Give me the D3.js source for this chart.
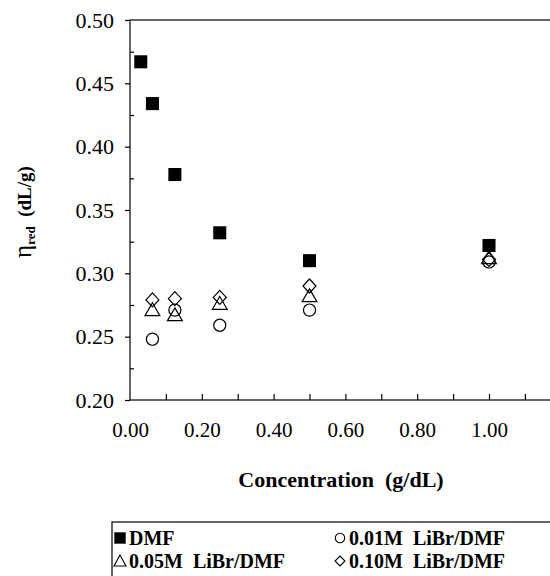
<!DOCTYPE html>
<html>
<head>
<meta charset="utf-8">
<script src="https://cdn.jsdelivr.net/npm/d3@7"></script>
<style>
  body { margin: 0; background: #fff; }
  svg { display: block; }
  svg text { font-family: "Liberation Serif", "DejaVu Serif", serif; fill: #000; }
</style>
</head>
<body>
<svg width="550" height="576"></svg>
<script>
// data
var conc = [0.03, 0.0625, 0.125, 0.25, 0.5, 1.0];
var dmf = [0.467, 0.434, 0.378, 0.332, 0.310, 0.322];
var conc2 = [0.0625, 0.125, 0.25, 0.5, 1.0];
var libr001 = [0.248, 0.271, 0.259, 0.271, 0.309];
var libr005 = [0.270, 0.266, 0.275, 0.281, 0.311];
var libr010 = [0.279, 0.280, 0.281, 0.290, 0.311];
var xTicks = [0, 0.2, 0.4, 0.6, 0.8, 1.0];
var yTicks = [0.20, 0.25, 0.30, 0.35, 0.40, 0.45, 0.50];

var svg = d3.select("svg");

var x = d3.scaleLinear().domain([0, 1.2]).range([130, 560.8]);
var y = d3.scaleLinear().domain([0.2, 0.5]).range([400, 20]);

// frame (right side runs off the picture)
svg.append("rect")
    .attr("x", x(0)).attr("y", y(0.5))
    .attr("width", x(1.2) - x(0)).attr("height", y(0.2) - y(0.5))
    .attr("fill", "none").attr("stroke", "#000").attr("stroke-width", 1.2);

// y axis: major ticks outside, minor inside
var yAxis = svg.append("g").attr("transform", "translate(" + x(0) + ",0)");
yAxis.call(d3.axisLeft(y).tickValues(yTicks).tickSize(5).tickPadding(11).tickFormat(d3.format(".2f")));
yAxis.select(".domain").remove();
yAxis.selectAll("text").style("font-size", "22px");
yAxis.selectAll("line").attr("stroke-width", 1.2);
svg.append("g").attr("transform", "translate(" + x(0) + ",0)")
    .call(d3.axisRight(y).tickValues(d3.range(0.225, 0.5, 0.05)).tickSize(4).tickFormat(""))
    .call(function(g) { g.select(".domain").remove(); g.selectAll("line").attr("stroke-width", 1.2); });

// x axis: ticks pointing inward
var xAxis = svg.append("g").attr("transform", "translate(0," + y(0.2) + ")");
xAxis.call(d3.axisBottom(x).tickValues(xTicks).tickSize(0).tickPadding(22).tickFormat(d3.format(".2f")));
xAxis.select(".domain").remove();
xAxis.selectAll("text").style("font-size", "21px");
svg.append("g").attr("transform", "translate(0," + y(0.2) + ")")
    .call(d3.axisTop(x).tickValues(d3.range(0.1, 1.15, 0.1)).tickSize(6).tickFormat(""))
    .call(function(g) { g.select(".domain").remove(); g.selectAll("line").attr("stroke-width", 1.2); });

// axis titles
svg.append("text")
    .attr("x", 341).attr("y", 487)
    .attr("text-anchor", "middle")
    .style("font-size", "22px").style("font-weight", "bold")
    .text("Concentration\u00a0\u00a0(g/dL)");

var yt = svg.append("text")
    .attr("transform", "translate(31,212) rotate(-90)")
    .attr("text-anchor", "middle")
    .style("font-size", "19px").style("font-weight", "bold");
yt.append("tspan").style("font-weight", "normal").style("font-size", "25px").text("\u03b7");
yt.append("tspan").style("font-size", "13px").attr("dy", 4).text("red");
yt.append("tspan").attr("dy", -4).text("\u00a0\u00a0(dL/g)");

// markers
function sym(type, size) { return d3.symbol().type(type).size(size)(); }

svg.append("g").selectAll("path").data(conc).enter().append("path")
    .attr("d", sym(d3.symbolSquare, 170))
    .attr("transform", function(d, i) { return "translate(" + x(d) + "," + y(dmf[i]) + ")"; })
    .attr("fill", "#000");

var series = [
    {vals: libr001, d: sym(d3.symbolCircle, 115)},
    {vals: libr005, d: sym(d3.symbolTriangle, 95)},
    {vals: libr010, d: "M0,-7L6.5,0L0,7L-6.5,0Z"}
];
series.forEach(function(s) {
    svg.append("g").selectAll("path").data(conc2).enter().append("path")
        .attr("d", s.d)
        .attr("transform", function(d, i) { return "translate(" + x(d) + "," + y(s.vals[i]) + ")"; })
        .attr("fill", "none").attr("stroke", "#000").attr("stroke-width", 1.2);
});

// legend
svg.append("rect")
    .attr("x", 112).attr("y", 522).attr("width", 500).attr("height", 100)
    .attr("fill", "none").attr("stroke", "#000").attr("stroke-width", 1.2);

var legendItems = [
    {label: "DMF", px: 120, py: 538, d: sym(d3.symbolSquare, 130), fill: "#000"},
    {label: "0.01M\u00a0\u00a0LiBr/DMF", px: 340, py: 538, d: sym(d3.symbolCircle, 70), fill: "none"},
    {label: "0.05M\u00a0\u00a0LiBr/DMF", px: 120, py: 561, d: "M0,-6L6,5L-6,5Z", fill: "none"},
    {label: "0.10M\u00a0\u00a0LiBr/DMF", px: 340, py: 561, d: "M0,-5L5,0L0,5L-5,0Z", fill: "none"}
];
var lg = svg.append("g").selectAll("g").data(legendItems).enter().append("g")
    .attr("transform", function(d) { return "translate(" + d.px + "," + d.py + ")"; });
lg.append("path")
    .attr("d", function(d) { return d.d; })
    .attr("fill", function(d) { return d.fill; })
    .attr("stroke", "#000").attr("stroke-width", function(d) { return d.fill === "none" ? 1.1 : 0; });
lg.append("text")
    .attr("x", 9).attr("dy", "0.35em")
    .style("font-size", "20px").style("font-weight", "bold")
    .text(function(d) { return d.label; });
</script>
</body>
</html>
